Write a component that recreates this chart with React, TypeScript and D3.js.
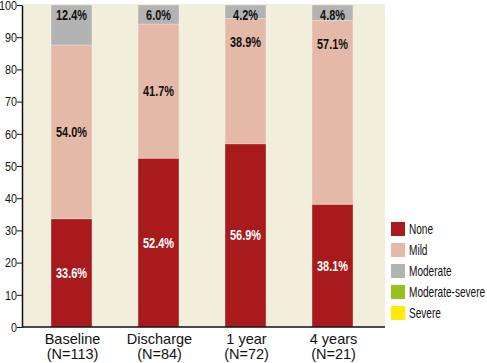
import * as d3 from "d3";
import { useEffect, useRef } from "react";

const categories = ["Baseline", "Discharge", "1 year", "4 years"];
const counts = ["(N=113)", "(N=84)", "(N=72)", "(N=21)"];
const severities = ["None", "Mild", "Moderate", "Moderate-severe", "Severe"];
const noneValues = [33.6, 52.4, 56.9, 38.1];
const mildValues = [54.0, 41.7, 38.9, 57.1];
const moderateValues = [12.4, 6.0, 4.2, 4.8];
const modSevereValues = [0, 0, 0, 0];
const severeValues = [0, 0, 0, 0];
const yTicks = [0, 10, 20, 30, 40, 50, 60, 70, 80, 90, 100];

const colors = ["#a81a1b", "#e5b9a8", "#b3b3b3", "#97c11f", "#ffec00"];
// where the mild label sits inside its segment
const mildLabelPlacement = ["mid", "mid", "top", "top"];

const sans = "'Liberation Sans', Arial, sans-serif";

export default function App() {
  const svgRef = useRef<SVGSVGElement>(null);

  useEffect(() => {
    if (!svgRef.current) return;
    const svg = d3.select(svgRef.current);
    svg.selectAll("*").remove();

    const plot = { left: 22, right: 385, top: 4, bottom: 327 };

    const x = d3
      .scaleBand<string>()
      .domain(categories)
      .range([28, 376])
      .paddingInner(0.53)
      .paddingOuter(0.265);
    const y = d3.scaleLinear().domain([0, 100]).range([327, 5]);

    // narrow text: no condensed face installed, so squeeze horizontally
    const narrow = (
      parent: d3.Selection<SVGGElement, unknown, null, undefined>,
      tx: number,
      ty: number,
      text: string,
      opts: { size: number; sx: number; weight?: string; fill?: string; anchor?: string },
    ) =>
      parent
        .append("text")
        .attr("transform", `translate(${tx},${ty}) scale(${opts.sx},1)`)
        .attr("dy", "0.35em")
        .attr("text-anchor", opts.anchor ?? "middle")
        .attr("fill", opts.fill ?? "#111")
        .style("font-family", sans)
        .style("font-size", `${opts.size}px`)
        .style("font-weight", opts.weight ?? "normal")
        .text(text);

    // background
    svg
      .append("rect")
      .attr("x", plot.left)
      .attr("y", plot.top)
      .attr("width", plot.right - plot.left)
      .attr("height", plot.bottom - plot.top)
      .attr("fill", "#f2eedc");

    const rows = categories.map((c, i) => ({
      cat: c,
      None: noneValues[i],
      Mild: mildValues[i],
      Moderate: moderateValues[i],
      "Moderate-severe": modSevereValues[i],
      Severe: severeValues[i],
    }));

    const stacked = d3.stack<any>().keys(severities)(rows);

    stacked.forEach((layer, li) => {
      svg
        .append("g")
        .selectAll("rect")
        .data(layer)
        .enter()
        .append("rect")
        .attr("x", (d) => x(d.data.cat)!)
        .attr("width", x.bandwidth())
        .attr("y", (d) => y(Math.min(d[1], 100)))
        .attr("height", (d) => Math.max(0, y(d[0]) - y(Math.min(d[1], 100))))
        .attr("fill", colors[li])
        .attr("stroke", "rgba(255,255,255,0.25)")
        .attr("stroke-width", 1);
    });

    // value labels
    const labels = svg.append("g");
    const valueOpts = { size: 14, sx: 0.78, weight: "bold" };
    stacked[0].forEach((d) => {
      narrow(labels, x(d.data.cat)! + x.bandwidth() / 2, y((d[0] + d[1]) / 2), `${d.data.None.toFixed(1)}%`, {
        ...valueOpts,
        fill: "white",
      });
    });
    stacked[1].forEach((d, i) => {
      const yy = mildLabelPlacement[i] === "top" ? y(d[1]) + 24 : y((d[0] + d[1]) / 2);
      narrow(labels, x(d.data.cat)! + x.bandwidth() / 2, yy, `${d.data.Mild.toFixed(1)}%`, valueOpts);
    });
    stacked[2].forEach((d) => {
      narrow(labels, x(d.data.cat)! + x.bandwidth() / 2, y(100) + 10, `${d.data.Moderate.toFixed(1)}%`, valueOpts);
    });

    // y axis
    const yAxis = svg
      .append("g")
      .attr("transform", `translate(${plot.left},0)`)
      .call(d3.axisLeft(y).tickValues(yTicks).tickSize(5).tickFormat(() => "").tickSizeOuter(0));
    yAxis.select(".domain").attr("stroke", "#111").attr("stroke-width", 1.5);
    yAxis.selectAll(".tick line").attr("stroke", "#111");
    const tickG = svg.append("g");
    yTicks.forEach((t) => {
      narrow(tickG, plot.left - 5, y(t), String(t), { size: 13.5, sx: 0.8, anchor: "end" });
    });

    // x axis line
    svg
      .append("line")
      .attr("x1", plot.left)
      .attr("x2", plot.right)
      .attr("y1", plot.bottom)
      .attr("y2", plot.bottom)
      .attr("stroke", "#111")
      .attr("stroke-width", 1.5);

    // category labels
    const catG = svg.append("g").style("font-family", sans).style("font-size", "14.5px").attr("fill", "#111");
    categories.forEach((c, i) => {
      const cx = x(c)! + x.bandwidth() / 2 + 1;
      catG.append("text").attr("x", cx).attr("y", 344).attr("text-anchor", "middle").text(c);
      catG.append("text").attr("x", cx).attr("y", 359).attr("text-anchor", "middle").text(counts[i]);
    });

    // legend
    const legend = svg.append("g").attr("transform", "translate(391,222)");
    severities.forEach((s, i) => {
      const row = legend.append("g").attr("transform", `translate(0,${i * 21})`);
      row.append("rect").attr("width", 14).attr("height", 14).attr("fill", colors[i]);
      narrow(row, 18, 7, s, { size: 14, sx: 0.72, anchor: "start" });
    });
  }, []);

  return (
    <div style={{ position: "absolute", left: 0, top: 0 }}>
      <svg ref={svgRef} width={487} height={363} style={{ display: "block", background: "white" }} />
    </div>
  );
}
